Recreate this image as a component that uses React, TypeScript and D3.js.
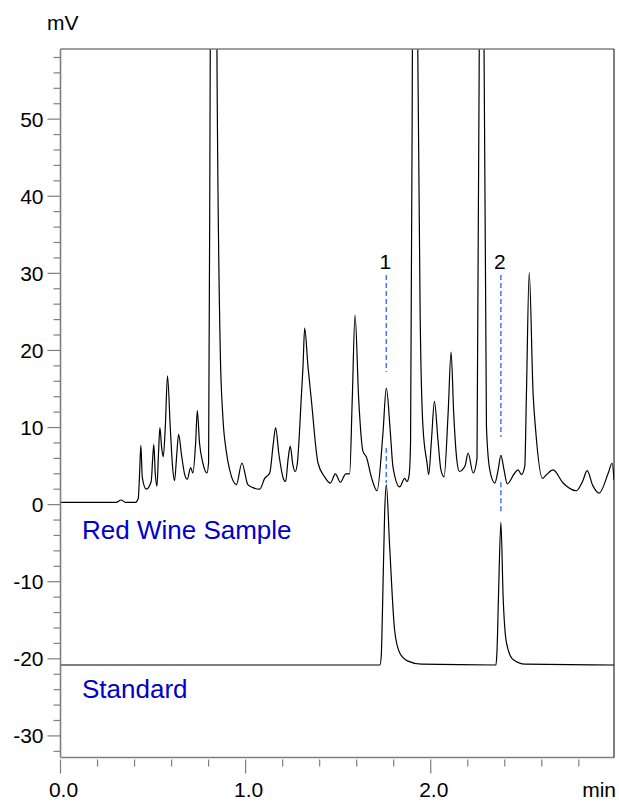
import React, { useEffect, useRef } from 'react';
import * as d3 from 'd3';

// red wine sample trace: time (min) / signal (mV)
const sampleTime = [
  0.0, 0.3, 0.328, 0.35, 0.405, 0.42, 0.428, 0.434, 0.442, 0.463,
  0.49, 0.498, 0.504, 0.512, 0.521, 0.53, 0.537, 0.546, 0.555, 0.566,
  0.578, 0.593, 0.605, 0.616, 0.628, 0.638, 0.654, 0.67, 0.685, 0.703,
  0.715, 0.73, 0.739, 0.751, 0.769, 0.791, 0.8, 0.809, 0.827, 0.845,
  0.863, 0.877, 0.895, 0.914, 0.95, 0.98, 1.012, 1.04, 1.076, 1.103,
  1.13, 1.15, 1.162, 1.18, 1.205, 1.216, 1.23, 1.241, 1.255, 1.268,
  1.28, 1.29, 1.3, 1.31, 1.319, 1.337, 1.355, 1.391, 1.427, 1.458,
  1.485, 1.512, 1.541, 1.562, 1.576, 1.591, 1.611, 1.634, 1.652, 1.68,
  1.71, 1.742, 1.76, 1.782, 1.796, 1.832, 1.859, 1.872, 1.883, 1.891,
  1.901, 1.914, 1.93, 1.944, 1.958, 1.98, 1.989, 2.004, 2.02, 2.039,
  2.055, 2.072, 2.094, 2.11, 2.124, 2.14, 2.155, 2.185, 2.202, 2.229,
  2.25, 2.262, 2.275, 2.288, 2.301, 2.319, 2.346, 2.364, 2.379, 2.396,
  2.413, 2.454, 2.472, 2.49, 2.508, 2.517, 2.532, 2.553, 2.568, 2.604,
  2.626, 2.661, 2.715, 2.787, 2.82, 2.845, 2.875, 2.91, 2.959, 2.98, 2.99,
];
const sampleMv = [
  0.3, 0.3, 0.6, 0.3, 0.3, 0.8, 4.5, 7.7, 3.5, 2.0,
  3.0, 6.0, 7.8, 4.0, 2.4, 7.0, 10.0, 7.5, 6.2, 10.0,
  16.7, 10.0, 5.0, 3.1, 6.5, 9.1, 6.4, 4.0, 3.3, 4.8,
  4.1, 8.0, 12.2, 8.0, 5.4, 4.1, 5.5, 59, 170, 59,
  20, 11.4, 7.0, 4.5, 2.6, 5.4, 2.6, 2.2, 2.0, 3.4,
  4.1, 8.0, 10.0, 6.5, 3.3, 3.0, 6.0, 7.6, 5.2, 4.3,
  5.5, 9.0, 13.6, 17.9, 22.9, 17.9, 13.6, 5.4, 3.6, 2.8,
  4.0, 2.9, 4.0, 4.0, 13.6, 24.6, 13.6, 6.9, 6.2, 3.5,
  1.8, 9.3, 15.1, 9.3, 4.9, 2.3, 3.4, 3.0, 3.8, 8.0,
  59, 170, 59, 22.7, 10.1, 5.4, 3.9, 8.4, 13.4, 8.4,
  4.5, 3.6, 11.9, 19.8, 11.9, 6.0, 4.3, 5.0, 6.7, 4.1,
  6.0, 59, 170, 59, 10.1, 4.5, 2.8, 4.5, 6.4, 4.5,
  2.7, 4.1, 4.5, 3.9, 5.0, 14.4, 30.1, 14.4, 9.3, 3.4,
  3.9, 4.5, 2.8, 1.8, 3.0, 4.4, 2.5, 1.5, 4.1, 5.4, 3.2,
];

// standard trace, drawn offset below the sample
const standardTime = [
  0.0, 1.726, 1.733, 1.739, 1.751, 1.76, 1.778, 1.805, 1.832, 1.877,
  1.95, 2.352, 2.358, 2.366, 2.379, 2.391, 2.409, 2.445, 2.51, 2.99,
];
const standardMv = [
  -20.8, -20.8, -19.5, -14.1, -1.1, 2.6, -5.4, -16.3, -19.2, -20.3,
  -20.7, -20.8, -19.0, -11.9, -2.3, -11.9, -17.9, -20.1, -20.7, -20.8,
];

// identified peaks and their blue guide lines (mV)
const peakLabels = ['1', '2'];
const peakTimes = [1.76, 2.379];
const guideUpper = [[29.8, 17.2], [29.8, 8.8]];
const guideLower = [[7.35, 2.8], [2.9, -1.1]];

const traceNames = ['Red Wine Sample', 'Standard'];
const traceNameMv = [-4.5, -25.1];

const xMajorTicks = [0, 1, 2];
const xTickLabels = ['0.0', '1.0', '2.0'];
const yMajorTicks = [50, 40, 30, 20, 10, 0, -10, -20, -30];

export default function App() {
  const ref = useRef<SVGSVGElement>(null);
  /* SIZE */
  const WIDTH = 619;
  const HEIGHT = 805;
  const LEFT = 60.5;
  const RIGHT = 614;
  const TOP = 49;
  const BOTTOM = 757.5;
  const FONT = '"Liberation Sans", Arial, sans-serif';
  /* COLOR */
  const AXIS = '#7f7f7f';
  const GUIDE = '#4477ee';
  const NAME = '#0000cc';

  useEffect(() => {
    const svg = d3.select(ref.current);
    svg.selectAll('*').remove();

    const x = d3.scaleLinear().domain([0, 2.99]).range([LEFT, RIGHT]);
    const y = d3.scaleLinear().domain([-32.8, 59.1]).range([BOTTOM, TOP]);

    svg.append('defs').append('clipPath').attr('id', 'plot-clip')
      .append('rect')
      .attr('x', LEFT).attr('y', TOP)
      .attr('width', RIGHT - LEFT).attr('height', BOTTOM - TOP);

    const line = d3.line<[number, number]>()
      .x(d => x(d[0]))
      .y(d => y(d[1]))
      .curve(d3.curveMonotoneX);

    const plot = svg.append('g').attr('clip-path', 'url(#plot-clip)');

    // guide lines
    peakTimes.forEach((t, i) => {
      [guideUpper[i], guideLower[i]].forEach(seg => {
        plot.append('line')
          .attr('x1', x(t)).attr('x2', x(t))
          .attr('y1', y(seg[0])).attr('y2', y(seg[1]))
          .attr('stroke', GUIDE)
          .attr('stroke-width', 1.5)
          .attr('stroke-dasharray', '5,3');
      });
    });

    // traces
    const sample = sampleTime.map((t, i) => [t, sampleMv[i]] as [number, number]);
    const standard = standardTime.map((t, i) => [t, standardMv[i]] as [number, number]);
    [sample, standard].forEach(pts => {
      plot.append('path')
        .attr('d', line(pts))
        .attr('fill', 'none')
        .attr('stroke', '#000')
        .attr('stroke-width', 1.2);
    });

    // frame
    svg.append('line').attr('x1', LEFT).attr('x2', RIGHT).attr('y1', TOP).attr('y2', TOP)
      .attr('stroke', AXIS).attr('stroke-width', 1.6);
    svg.append('line').attr('x1', LEFT).attr('x2', RIGHT).attr('y1', BOTTOM).attr('y2', BOTTOM)
      .attr('stroke', AXIS).attr('stroke-width', 1.6);
    svg.append('line').attr('x1', LEFT).attr('x2', LEFT).attr('y1', TOP).attr('y2', BOTTOM)
      .attr('stroke', AXIS).attr('stroke-width', 1.6);
    svg.append('line').attr('x1', RIGHT).attr('x2', RIGHT).attr('y1', TOP).attr('y2', BOTTOM)
      .attr('stroke', '#000').attr('stroke-width', 1);

    // y ticks every 2 mV, long ones at the labels
    const yTicks = d3.range(-32, 59, 2);
    svg.append('g').selectAll('line').data(yTicks).enter().append('line')
      .attr('x1', d => LEFT - (yMajorTicks.includes(d) ? 13 : 7))
      .attr('x2', LEFT)
      .attr('y1', d => y(d)).attr('y2', d => y(d))
      .attr('stroke', AXIS).attr('stroke-width', 1.2);
    svg.append('g').selectAll('text').data(yMajorTicks).enter().append('text')
      .attr('x', LEFT - 17)
      .attr('y', d => y(d))
      .attr('dy', '0.36em')
      .attr('text-anchor', 'end')
      .attr('font-family', FONT)
      .attr('font-size', 21)
      .text(d => String(d));

    // x ticks every 0.2 min
    const xTicks = d3.range(0, 2.9, 0.2);
    svg.append('g').selectAll('line').data(xTicks).enter().append('line')
      .attr('x1', d => x(d)).attr('x2', d => x(d))
      .attr('y1', BOTTOM + 2)
      .attr('y2', d => BOTTOM + (xMajorTicks.some(m => Math.abs(m - d) < 1e-6) ? 16 : 9))
      .attr('stroke', AXIS).attr('stroke-width', 1.2);
    svg.append('g').selectAll('text').data(xMajorTicks).enter().append('text')
      .attr('x', d => x(d) + 3)
      .attr('y', 797)
      .attr('text-anchor', 'middle')
      .attr('font-family', FONT)
      .attr('font-size', 21)
      .text((d, i) => xTickLabels[i]);

    // unit labels
    svg.append('text').attr('x', 47).attr('y', 30)
      .attr('font-family', FONT).attr('font-size', 21).text('mV');
    svg.append('text').attr('x', 616).attr('y', 797).attr('text-anchor', 'end')
      .attr('font-family', FONT).attr('font-size', 21).text('min');

    // peak numbers
    svg.append('g').selectAll('text').data(peakTimes).enter().append('text')
      .attr('x', d => x(d) - 1)
      .attr('y', y(30.5))
      .attr('text-anchor', 'middle')
      .attr('font-family', FONT)
      .attr('font-size', 21)
      .text((d, i) => peakLabels[i]);

    // trace names
    svg.append('g').selectAll('text').data(traceNames).enter().append('text')
      .attr('x', 82)
      .attr('y', (d, i) => y(traceNameMv[i]))
      .attr('font-family', FONT)
      .attr('font-size', 26)
      .attr('fill', NAME)
      .text(d => d);
  }, []);

  return (
    <svg ref={ref} width={WIDTH} height={HEIGHT}
      style={{ position: 'absolute', left: 0, top: 0, background: '#fff' }} />
  );
}
